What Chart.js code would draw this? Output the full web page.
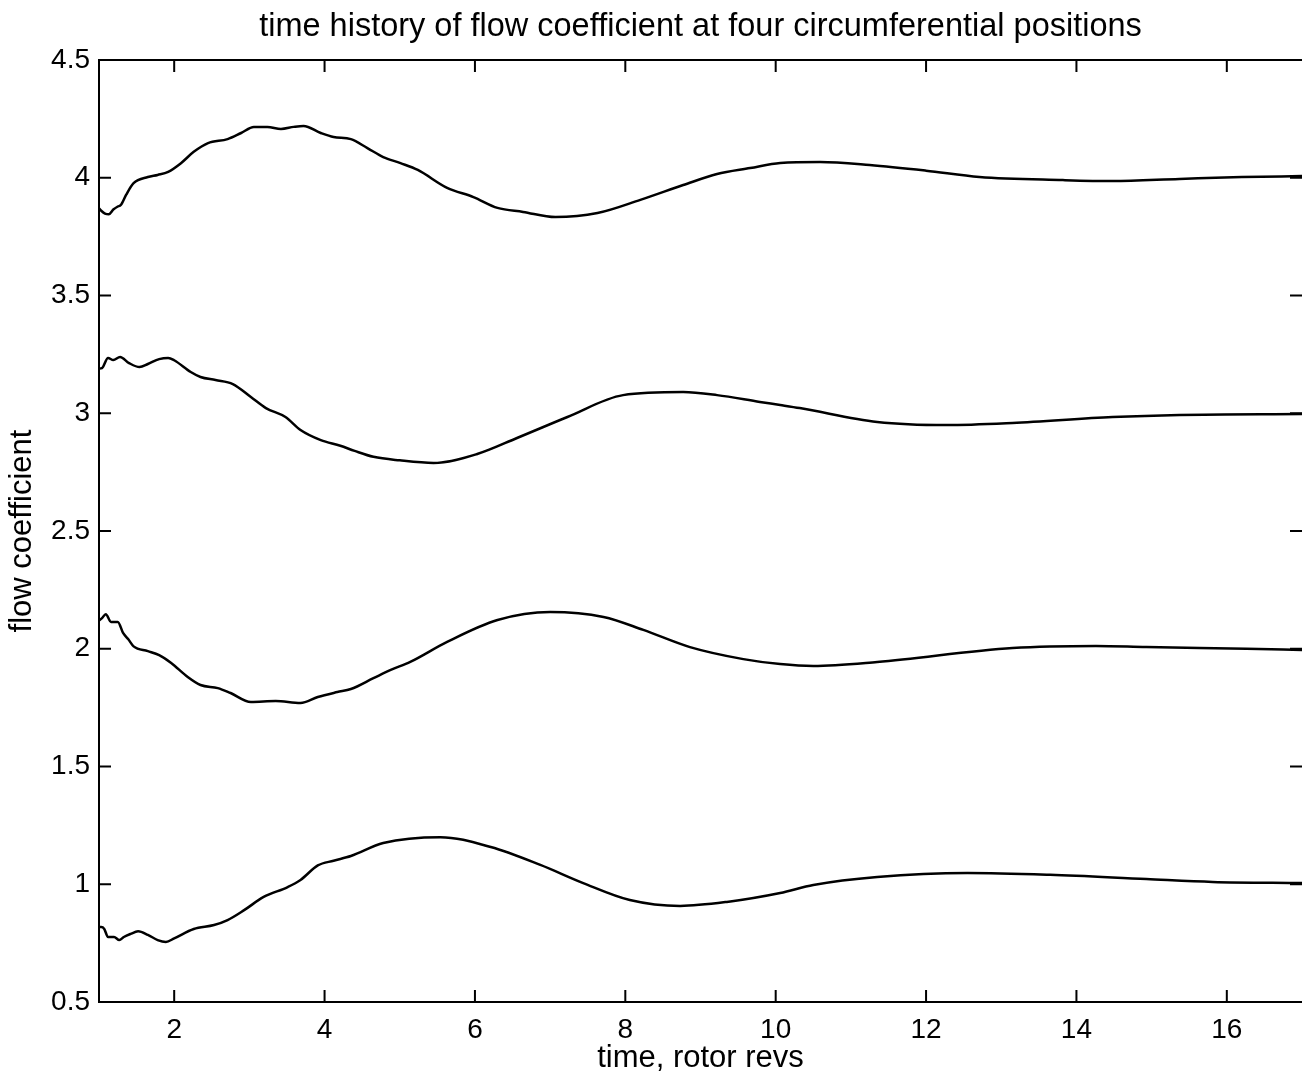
<!DOCTYPE html>
<html>
<head>
<meta charset="utf-8">
<title>flow coefficient time history</title>
<script src="https://cdn.jsdelivr.net/npm/chart.js@4.4.1/dist/chart.umd.min.js"></script>
<style>
  html, body { margin: 0; padding: 0; background: #fff; overflow: hidden; }
  #wrap { width: 1302px; height: 1082px; }
</style>
</head>
<body>
<div id="wrap"><canvas id="flowChart" width="1302" height="1082"></canvas></div>
<script>
// time (rotor revs) and flow coefficient for each circumferential position
const tA = [1.0, 1.03, 1.08, 1.13, 1.19, 1.25, 1.29, 1.36, 1.46, 1.65, 1.78, 1.92, 2.09, 2.26, 2.45, 2.71, 2.89, 3.06, 3.24, 3.42, 3.59, 3.72, 3.95, 4.12, 4.35, 4.57, 4.78, 5.01, 5.24, 5.63, 5.98, 6.30, 6.64, 7.07, 7.63, 8.20, 8.77, 9.22, 9.66, 10.06, 10.59, 11.25, 12.0, 12.71, 13.82, 14.48, 15.37, 16.2, 17.0];
const phiA = [3.87, 3.86, 3.848, 3.845, 3.865, 3.878, 3.884, 3.927, 3.977, 4.003, 4.012, 4.025, 4.062, 4.11, 4.147, 4.164, 4.19, 4.216, 4.216, 4.207, 4.216, 4.22, 4.19, 4.173, 4.164, 4.126, 4.088, 4.062, 4.033, 3.957, 3.918, 3.872, 3.855, 3.833, 3.85, 3.906, 3.969, 4.016, 4.041, 4.063, 4.067, 4.054, 4.03, 4.003, 3.99, 3.986, 3.995, 4.003, 4.007];

const tB = [1.0, 1.04, 1.12, 1.19, 1.28, 1.40, 1.54, 1.65, 1.80, 1.92, 2.0, 2.22, 2.35, 2.55, 2.78, 3.02, 3.22, 3.48, 3.68, 3.95, 4.21, 4.40, 4.65, 5.0, 5.45, 6.03, 6.56, 7.23, 7.97, 8.77, 9.22, 9.79, 10.06, 10.32, 11.35, 12.27, 13.15, 14.48, 15.37, 17.0];
const phiB = [3.19, 3.192, 3.235, 3.226, 3.239, 3.213, 3.196, 3.209, 3.23, 3.235, 3.225, 3.175, 3.154, 3.141, 3.124, 3.069, 3.022, 2.984, 2.929, 2.886, 2.862, 2.84, 2.815, 2.8, 2.789, 2.827, 2.895, 2.984, 3.077, 3.09, 3.077, 3.048, 3.035, 3.022, 2.963, 2.95, 2.959, 2.984, 2.993, 2.997];

const tC = [1.0, 1.04, 1.09, 1.16, 1.25, 1.32, 1.39, 1.46, 1.65, 1.80, 1.96, 2.18, 2.35, 2.58, 2.75, 3.02, 3.35, 3.68, 3.91, 4.17, 4.35, 4.65, 4.88, 5.14, 5.63, 6.30, 7.0, 7.71, 8.24, 8.86, 9.57, 10.06, 10.5, 11.35, 13.15, 14.26, 14.93, 16.26, 17.0];
const phiC = [2.12, 2.13, 2.147, 2.114, 2.114, 2.067, 2.04, 2.01, 1.99, 1.973, 1.94, 1.88, 1.846, 1.833, 1.812, 1.774, 1.778, 1.77, 1.795, 1.816, 1.829, 1.875, 1.91, 1.944, 2.029, 2.122, 2.156, 2.135, 2.08, 2.007, 1.956, 1.935, 1.927, 1.944, 2.003, 2.012, 2.007, 2.0, 1.995];

const tD = [1.0, 1.03, 1.07, 1.12, 1.20, 1.27, 1.33, 1.42, 1.52, 1.65, 1.78, 1.89, 2.0, 2.26, 2.53, 2.71, 2.93, 3.19, 3.51, 3.68, 3.91, 4.12, 4.35, 4.78, 5.54, 6.21, 6.87, 7.44, 8.06, 8.73, 9.35, 10.06, 10.5, 11.35, 12.55, 13.65, 14.93, 15.81, 17.0];
const phiD = [0.818, 0.818, 0.81, 0.776, 0.776, 0.763, 0.776, 0.789, 0.80, 0.785, 0.763, 0.755, 0.77, 0.81, 0.827, 0.848, 0.89, 0.946, 0.988, 1.018, 1.08, 1.10, 1.12, 1.175, 1.2, 1.158, 1.082, 1.005, 0.933, 0.908, 0.925, 0.963, 0.997, 1.031, 1.048, 1.04, 1.022, 1.01, 1.005];

const xTicks = [2, 4, 6, 8, 10, 12, 14, 16];
const yTicks = [0.5, 1, 1.5, 2, 2.5, 3, 3.5, 4, 4.5];

const FONT = 'Liberation Sans, Arial, Helvetica, sans-serif';

function pairs(t, v) {
    return t.map((x, i) => ({ x: x, y: v[i] }));
}

function curve(t, v) {
    return {
        data: pairs(t, v),
        borderColor: '#000',
        borderWidth: 2.5,
        pointRadius: 0,
        fill: false,
        cubicInterpolationMode: 'monotone'
    };
}

// left/top/bottom frame lines plus inward tick marks on all four sides
// (the right edge of the box sits just past the canvas)
const frameTicks = {
    id: 'frameTicks',
    afterDraw(chart) {
        const { ctx, chartArea: a, scales: { x, y } } = chart;
        const len = 12;
        ctx.save();
        ctx.strokeStyle = '#000';
        ctx.lineWidth = 2;
        ctx.beginPath();
        ctx.moveTo(a.right, a.top);
        ctx.lineTo(a.left, a.top);
        ctx.lineTo(a.left, a.bottom);
        ctx.lineTo(a.right, a.bottom);
        x.ticks.forEach(t => {
            const px = x.getPixelForValue(t.value);
            ctx.moveTo(px, a.bottom); ctx.lineTo(px, a.bottom - len);
            ctx.moveTo(px, a.top); ctx.lineTo(px, a.top + len);
        });
        y.ticks.forEach(t => {
            const py = y.getPixelForValue(t.value);
            ctx.moveTo(a.left, py); ctx.lineTo(a.left + len, py);
            ctx.moveTo(a.right, py); ctx.lineTo(a.right - len, py);
        });
        ctx.stroke();
        ctx.restore();
    }
};

const ctx = document.getElementById('flowChart').getContext('2d');
new Chart(ctx, {
    type: 'line',
    data: {
        datasets: [curve(tA, phiA), curve(tB, phiB), curve(tC, phiC), curve(tD, phiD)]
    },
    options: {
        responsive: false,
        animation: false,
        devicePixelRatio: 1,
        layout: { padding: { left: 0, right: -1, top: 0, bottom: 0 } },
        plugins: {
            legend: { display: false },
            tooltip: { enabled: false },
            title: {
                display: true,
                fullSize: false,
                text: 'time history of flow coefficient at four circumferential positions',
                color: '#000',
                font: { family: FONT, size: 32.5, weight: 'normal', lineHeight: 1.2 },
                padding: { top: 8, bottom: 13 }
            }
        },
        scales: {
            x: {
                type: 'linear',
                min: 1,
                max: 17,
                grid: { display: false, drawTicks: false },
                border: { display: false },
                afterBuildTicks: s => { s.ticks = xTicks.map(v => ({ value: v })); },
                afterFit: s => { s.height = 80; },
                ticks: {
                    color: '#000',
                    padding: 11,
                    maxRotation: 0,
                    font: { family: FONT, size: 28 },
                    callback: v => String(v)
                },
                title: {
                    display: true,
                    text: 'time, rotor revs',
                    color: '#000',
                    font: { family: FONT, size: 31 },
                    padding: { top: 0, bottom: 5 }
                }
            },
            y: {
                type: 'linear',
                min: 0.5,
                max: 4.5,
                grid: { display: false, drawTicks: false },
                border: { display: false },
                afterBuildTicks: s => { s.ticks = yTicks.map(v => ({ value: v })); },
                afterFit: s => { s.width = 99; },
                ticks: {
                    color: '#000',
                    padding: 9,
                    font: { family: FONT, size: 28 },
                    callback: v => String(v)
                },
                title: {
                    display: true,
                    text: 'flow coefficient',
                    color: '#000',
                    font: { family: FONT, size: 31 },
                    padding: { top: 4, bottom: 0 }
                }
            }
        }
    },
    plugins: [frameTicks]
});
</script>
</body>
</html>
